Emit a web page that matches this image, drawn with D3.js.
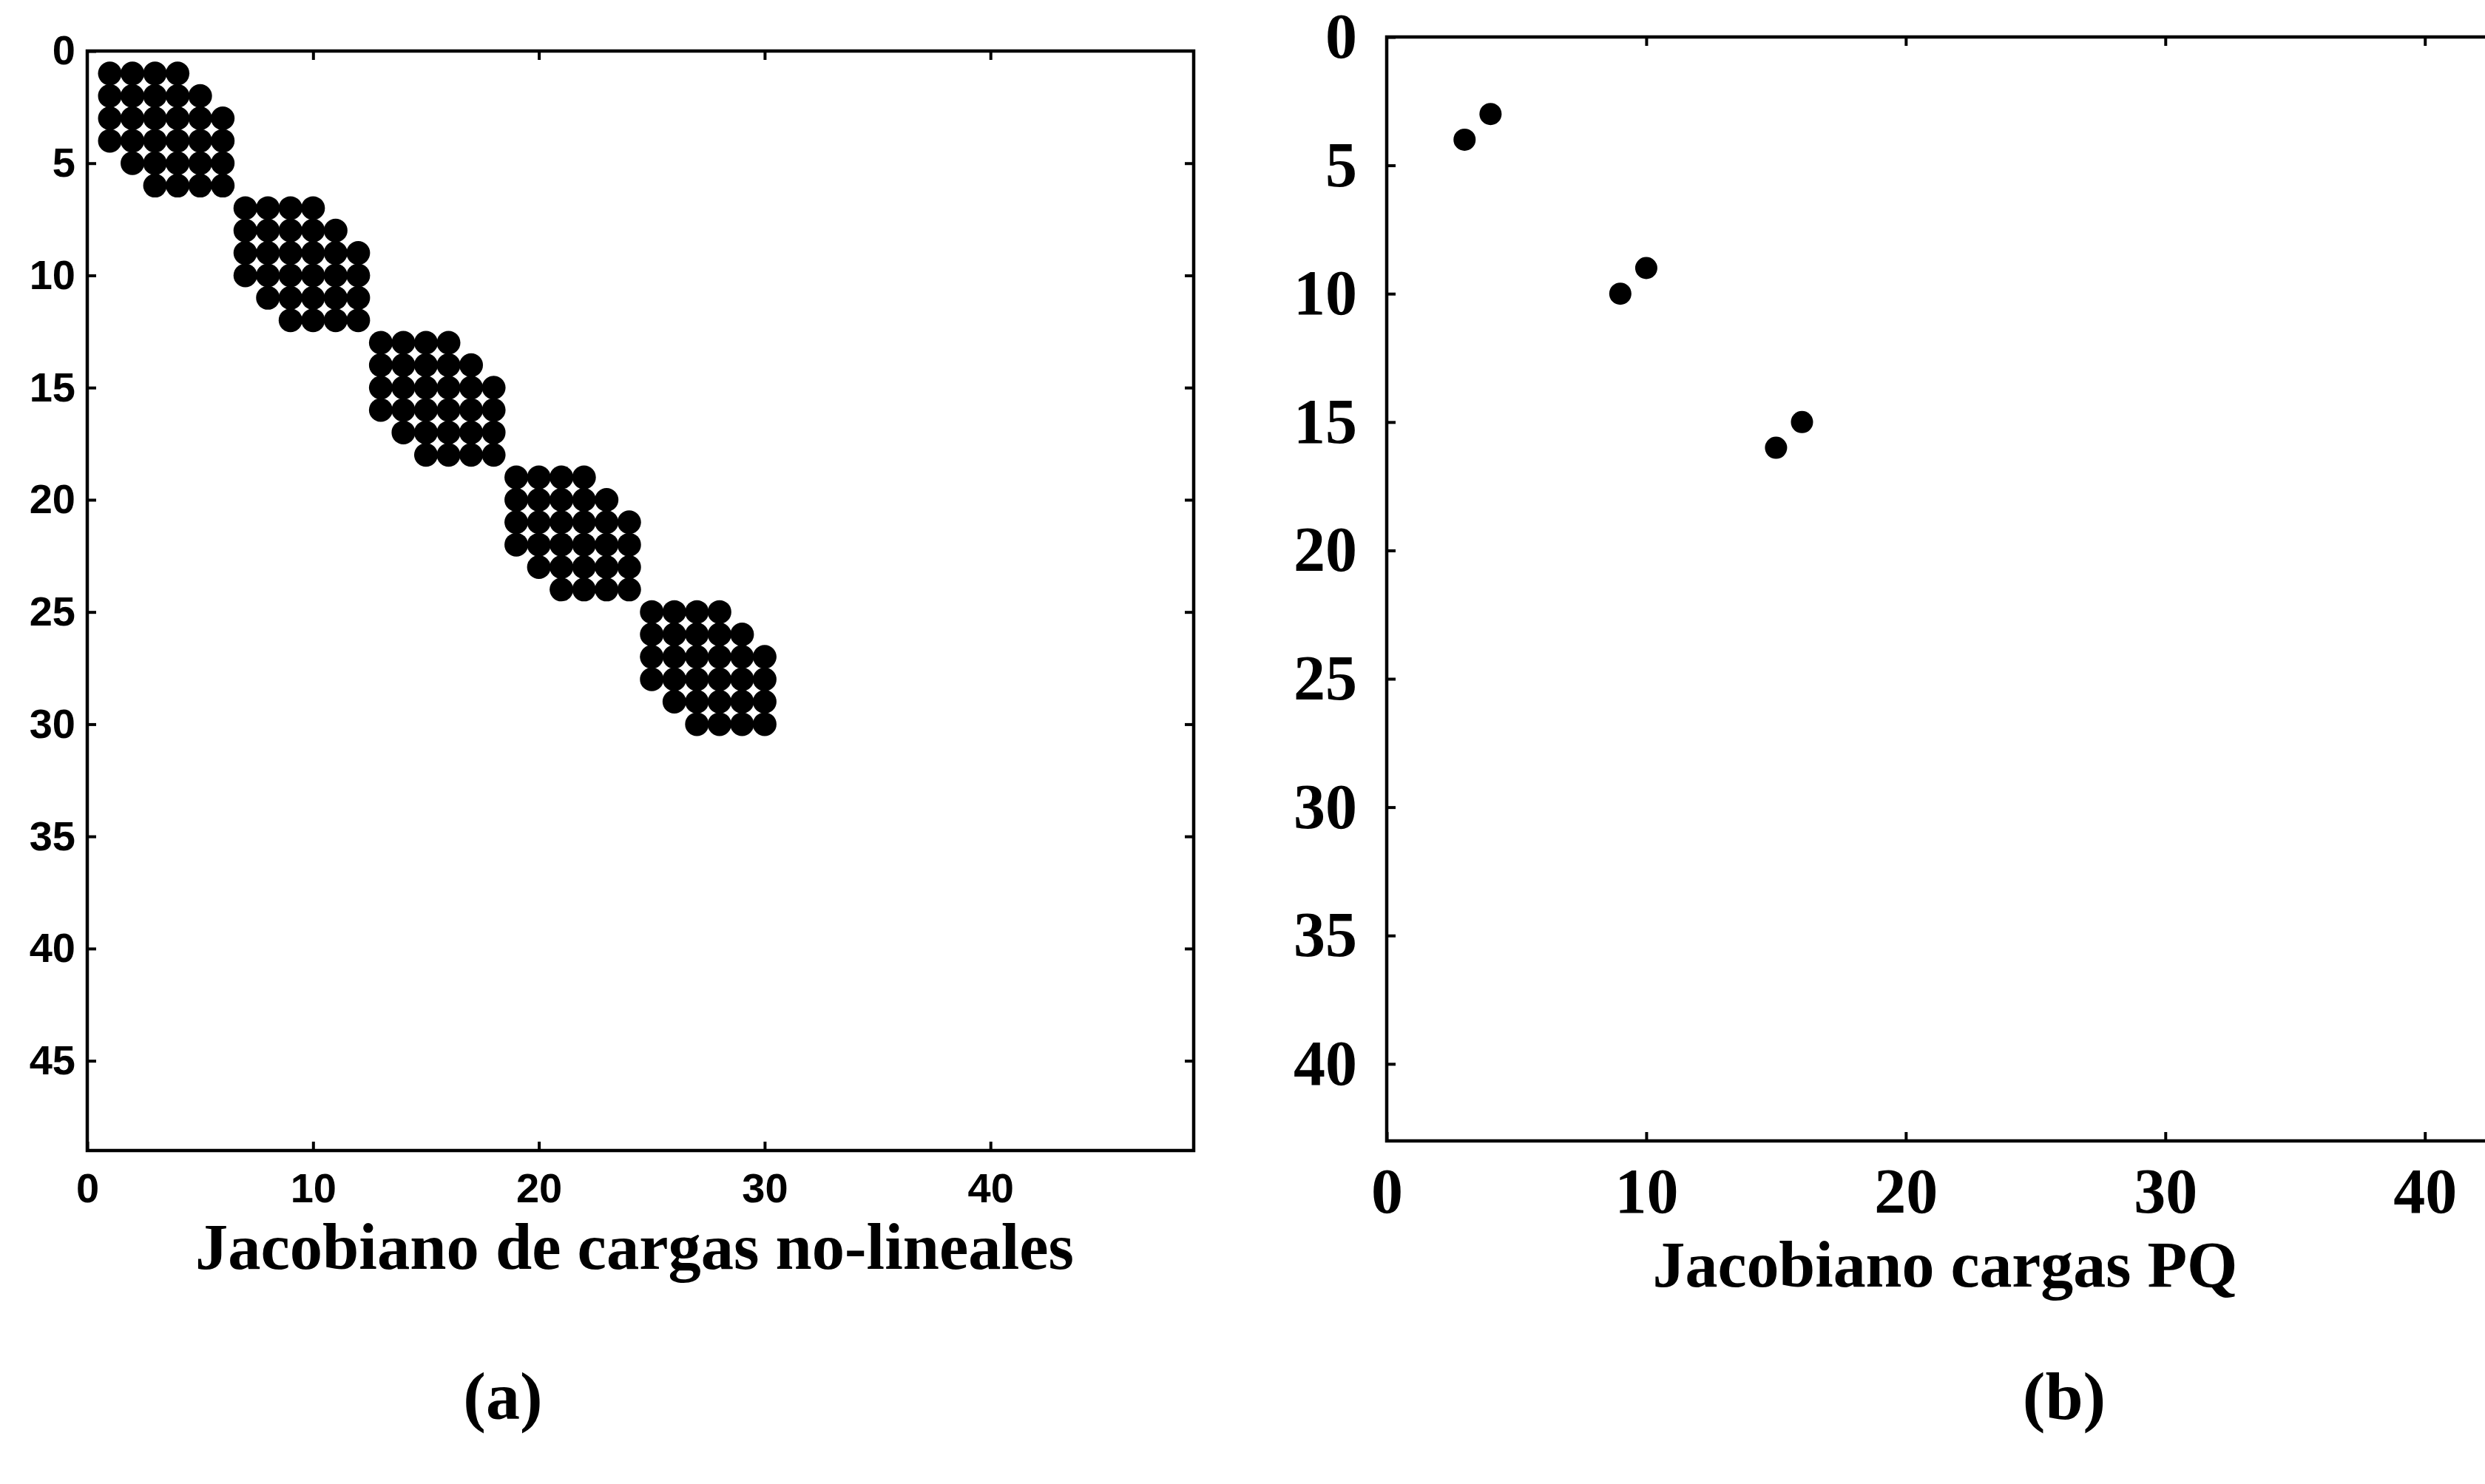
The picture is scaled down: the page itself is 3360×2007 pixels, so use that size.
<!DOCTYPE html>
<html>
<head>
<meta charset="utf-8">
<script src="https://cdn.jsdelivr.net/npm/d3@7"></script>
<style>
  html, body { margin: 0; padding: 0; background: #fff; overflow: hidden; }
  svg { display: block; }
</style>
</head>
<body>
<script>
// Sparsity pattern (a): non-linear load Jacobian, 48x48.
// Each entry: [row, firstColumn, lastColumn] of the non-zero run in that row.
const rowRunsA = [
  [1, 1, 4], [2, 1, 5], [3, 1, 6], [4, 1, 6], [5, 2, 6], [6, 3, 6],
  [7, 7, 10], [8, 7, 11], [9, 7, 12], [10, 7, 12], [11, 8, 12], [12, 9, 12],
  [13, 13, 16], [14, 13, 17], [15, 13, 18], [16, 13, 18], [17, 14, 18], [18, 15, 18],
  [19, 19, 22], [20, 19, 23], [21, 19, 24], [22, 19, 24], [23, 20, 24], [24, 21, 24],
  [25, 25, 28], [26, 25, 29], [27, 25, 30], [28, 25, 30], [29, 26, 30], [30, 27, 30]
];
const sizeA = 48;

// Sparsity pattern (b): PQ load Jacobian, 42x42 — [column, row] of each non-zero.
const nonzerosB = [[3, 4], [4, 3], [9, 10], [10, 9], [15, 16], [16, 15]];
const sizeB = 42;

// Tick labels
const yTicksA = [0, 5, 10, 15, 20, 25, 30, 35, 40, 45];
const xTicksA = [0, 10, 20, 30, 40];
const yTicksB = [0, 5, 10, 15, 20, 25, 30, 35, 40];
const xTicksB = [0, 10, 20, 30, 40];

const xLabelA = "Jacobiano de cargas no-lineales";
const xLabelB = "Jacobiano cargas PQ";
const captionA = "(a)";
const captionB = "(b)";

// expand row runs into individual (col,row) entries
const nonzerosA = [];
rowRunsA.forEach(([r, c0, c1]) => {
  for (let c = c0; c <= c1; c++) nonzerosA.push([c, r]);
});

const W = 3360, H = 2007;
const svg = d3.select("body").append("svg")
  .attr("width", W).attr("height", H)
  .attr("viewBox", `0 0 ${W} ${H}`);
svg.append("rect").attr("width", W).attr("height", H).attr("fill", "#fff");

const sansBold = "'Liberation Sans', Arial, Helvetica, sans-serif";
const serif = "'Liberation Serif', 'Times New Roman', Times, serif";

function drawPanel(opt) {
  const g = svg.append("g");
  const x = d3.scaleLinear().domain([0, opt.size + 1]).range([opt.left, opt.right]);
  const y = d3.scaleLinear().domain([0, opt.size + 1]).range([opt.top, opt.bottom]);

  // markers
  g.append("g").selectAll("circle")
    .data(opt.points)
    .join("circle")
    .attr("cx", d => x(d[0]))
    .attr("cy", d => y(d[1]))
    .attr("r", opt.r)
    .attr("fill", "#000");

  const styleAxis = (sel, labelled) => {
    sel.select(".domain").remove();
    sel.selectAll(".tick line").attr("stroke", "#000").attr("stroke-width", opt.tickW);
    sel.selectAll(".tick text")
      .attr("fill", "#000")
      .attr("font-family", opt.tickFont)
      .attr("font-weight", opt.tickWeight)
      .attr("font-size", opt.tickSize);
    if (!labelled) sel.selectAll(".tick text").remove();
  };

  const tl = opt.tickLen;
  g.append("g").attr("transform", `translate(${opt.left},0)`)
    .call(d3.axisLeft(y).tickValues(opt.yTicks).tickSizeInner(-tl).tickSizeOuter(0).tickPadding(opt.yPad))
    .call(s => styleAxis(s, true));
  g.append("g").attr("transform", `translate(0,${opt.bottom})`)
    .call(d3.axisBottom(x).tickValues(opt.xTicks).tickSizeInner(-tl).tickSizeOuter(0).tickPadding(opt.xPad))
    .call(s => styleAxis(s, true));
  g.append("g").attr("transform", `translate(0,${opt.top})`)
    .call(d3.axisTop(x).tickValues(opt.xTicks.filter(v => v > 0)).tickSizeInner(-tl).tickSizeOuter(0))
    .call(s => styleAxis(s, false));
  g.append("g").attr("transform", `translate(${opt.right},0)`)
    .call(d3.axisRight(y).tickValues(opt.yTicks.filter(v => v > 0)).tickSizeInner(-tl).tickSizeOuter(0))
    .call(s => styleAxis(s, false));

  // box
  g.append("rect")
    .attr("x", opt.left).attr("y", opt.top)
    .attr("width", opt.right - opt.left).attr("height", opt.bottom - opt.top)
    .attr("fill", "none").attr("stroke", "#000").attr("stroke-width", opt.boxW);

  // x-axis title
  g.append("text")
    .attr("x", opt.labelX).attr("y", opt.labelY)
    .attr("text-anchor", "middle")
    .attr("font-family", serif).attr("font-weight", "bold")
    .attr("font-size", opt.labelSize)
    .attr("textLength", opt.labelLen).attr("lengthAdjust", "spacingAndGlyphs")
    .attr("fill", "#000")
    .text(opt.label);

  // caption
  g.append("text")
    .attr("x", opt.capX).attr("y", opt.capY)
    .attr("text-anchor", "middle")
    .attr("font-family", serif).attr("font-weight", "bold")
    .attr("font-size", 92)
    .attr("fill", "#000")
    .text(opt.caption);
}

drawPanel({
  points: nonzerosA, size: sizeA,
  left: 118, right: 1614, top: 69, bottom: 1556,
  r: 16,
  yTicks: yTicksA, xTicks: xTicksA,
  tickFont: sansBold, tickWeight: "bold", tickSize: 56,
  yPad: 16, xPad: 30, tickLen: 12, tickW: 4, boxW: 4.5,
  label: xLabelA, labelX: 858, labelY: 1716, labelSize: 88, labelLen: 1188,
  caption: captionA, capX: 680, capY: 1919
});

drawPanel({
  points: nonzerosB, size: sizeB,
  left: 1875, right: 3384, top: 50, bottom: 1543,
  r: 15,
  yTicks: yTicksB, xTicks: xTicksB,
  tickFont: serif, tickWeight: "bold", tickSize: 86,
  yPad: 40, xPad: 36, tickLen: 12, tickW: 4, boxW: 4.5,
  label: xLabelB, labelX: 2630, labelY: 1740, labelSize: 88, labelLen: 791,
  caption: captionB, capX: 2791, capY: 1919
});
</script>
</body>
</html>
